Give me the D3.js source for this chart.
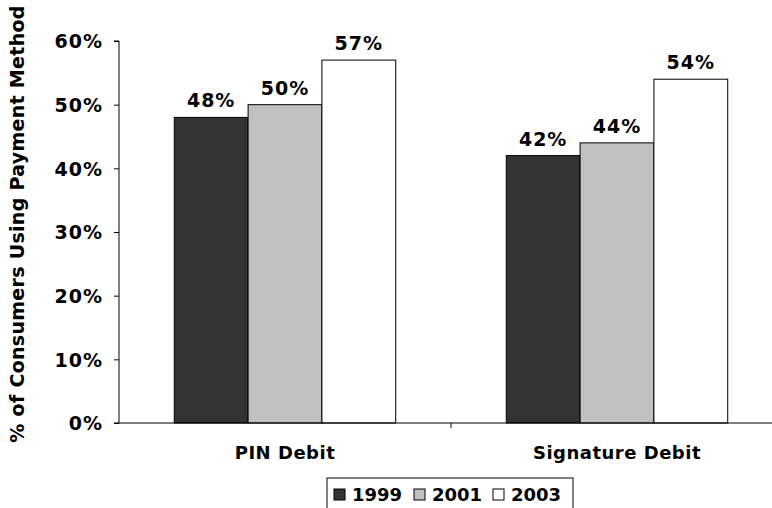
<!DOCTYPE html>
<html>
<head>
<meta charset="utf-8">
<script src="https://cdn.jsdelivr.net/npm/d3@7"></script>
<style>
  body { margin: 0; background: #fff; }
  svg text { font-family: "DejaVu Sans", Verdana, sans-serif; font-weight: bold; fill: #000; }
</style>
</head>
<body>
<svg width="772" height="508"></svg>
<script>
// data
const categories = ['PIN Debit', 'Signature Debit'];
const years = ['1999', '2001', '2003'];
const values1999 = [48, 42];
const values2001 = [50, 44];
const values2003 = [57, 54];
const yTicks = [0, 10, 20, 30, 40, 50, 60];

const seriesValues = [values1999, values2001, values2003];
const fills = ['#333333', '#c0c0c0', '#ffffff'];

const svg = d3.select('svg');

// plot area
const plotLeft = 119, plotRight = 783, plotTop = 41, plotBottom = 423;

const x0 = d3.scaleBand()
  .domain(categories)
  .range([plotLeft, plotRight])
  .paddingInner(0.333)
  .paddingOuter(0.1665);

const x1 = d3.scaleBand()
  .domain(years)
  .range([0, x0.bandwidth()]);

const y = d3.scaleLinear()
  .domain([0, 60])
  .range([plotBottom, plotTop]);

// bars
const groups = svg.append('g')
  .selectAll('g')
  .data(categories)
  .join('g')
  .attr('transform', d => `translate(${x0(d)},0)`);

groups.selectAll('rect')
  .data((d, i) => years.map((yr, j) => ({year: yr, value: seriesValues[j][i], j})))
  .join('rect')
  .attr('x', d => x1(d.year))
  .attr('y', d => y(d.value))
  .attr('width', x1.bandwidth())
  .attr('height', d => y(0) - y(d.value))
  .style('fill', d => fills[d.j])
  .style('stroke', '#000')
  .style('stroke-width', 1);

groups.selectAll('text')
  .data((d, i) => years.map((yr, j) => ({year: yr, value: seriesValues[j][i]})))
  .join('text')
  .attr('x', d => x1(d.year) + x1.bandwidth() / 2)
  .attr('y', d => y(d.value) - 10)
  .attr('text-anchor', 'middle')
  .style('font-size', '19px')
  .style('letter-spacing', '1px')
  .text(d => d.value + '%');

// y axis
const yAxis = svg.append('g')
  .attr('transform', `translate(${plotLeft},0)`)
  .call(d3.axisLeft(y).tickValues(yTicks).tickSize(5).tickPadding(11).tickFormat(d => d + '%'));
yAxis.select('.domain').attr('d', `M-5,${plotTop}H0V${plotBottom}H-5`).style('stroke', '#000');
yAxis.selectAll('.tick line').style('stroke', '#000');
yAxis.selectAll('.tick text')
  .style('font-size', '19px')
  .style('letter-spacing', '1px')
  .attr('dy', '0.36em');

// x axis
const xAxis = svg.append('g')
  .attr('transform', `translate(0,${plotBottom})`);
xAxis.append('line')
  .attr('x1', plotLeft).attr('x2', plotRight)
  .attr('y1', 0).attr('y2', 0)
  .style('stroke', '#000');
xAxis.selectAll('line.tick')
  .data(categories.slice(1))
  .join('line')
  .attr('class', 'tick')
  .attr('x1', d => x0(d) - x0.step() * x0.paddingInner() / 2)
  .attr('x2', d => x0(d) - x0.step() * x0.paddingInner() / 2)
  .attr('y1', 0).attr('y2', 5)
  .style('stroke', '#000');
xAxis.selectAll('text')
  .data(categories)
  .join('text')
  .attr('x', d => x0(d) + x0.bandwidth() / 2)
  .attr('y', 36)
  .attr('text-anchor', 'middle')
  .style('font-size', '18px')
  .style('letter-spacing', '0.5px')
  .text(d => d);

// y title
svg.append('text')
  .attr('transform', 'translate(24,224) rotate(-90)')
  .attr('text-anchor', 'middle')
  .style('font-size', '19px')
  .style('letter-spacing', '0.3px')
  .text('% of Consumers Using Payment Method');

// legend
const legend = svg.append('g').attr('transform', 'translate(327,478)');
legend.append('rect')
  .attr('x', 0).attr('y', 0)
  .attr('width', 246).attr('height', 34)
  .style('fill', '#fff')
  .style('stroke', '#000');
const legendX = [7, 87, 166];
const items = legend.selectAll('g.item')
  .data(years)
  .join('g')
  .attr('class', 'item')
  .attr('transform', (d, i) => `translate(${legendX[i]},0)`);
items.append('rect')
  .attr('x', 0).attr('y', 11)
  .attr('width', 11).attr('height', 11)
  .style('fill', (d, i) => fills[i])
  .style('stroke', '#000');
items.append('text')
  .attr('x', 18).attr('y', 23)
  .style('font-size', '18px')
  .text(d => d);
</script>
</body>
</html>
